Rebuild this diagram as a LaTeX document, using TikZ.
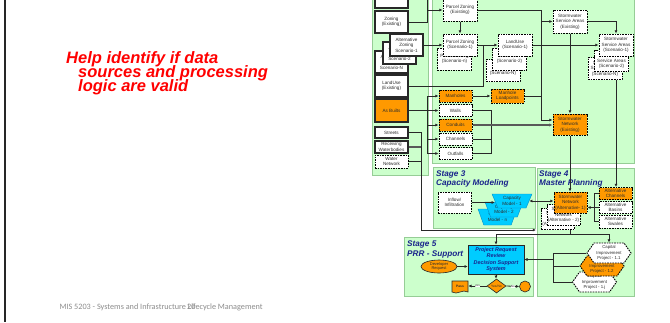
\documentclass[tikz,border=0pt]{standalone}
\usepackage{fontspec}
\setmainfont{Liberation Sans}
\newfontfamily\footfont{Carlito}
\usetikzlibrary{arrows.meta,shapes.geometric,shapes.symbols,calc}
\definecolor{panelfill}{RGB}{204,255,204}
\definecolor{panelline}{RGB}{150,205,150}
\definecolor{orng}{RGB}{255,153,0}
\definecolor{cyanbox}{RGB}{0,204,255}
\definecolor{cyanline}{RGB}{0,140,200}
\definecolor{navy}{RGB}{25,35,140}
\definecolor{ink}{RGB}{40,40,40}
\definecolor{txt}{RGB}{45,45,45}
\definecolor{footgray}{RGB}{140,140,140}
\newcommand\boxfont{\fontsize{4.6}{5.4}\selectfont}
\newcommand\hexfont{\fontsize{4.3}{5.4}\selectfont}
\begin{document}
\begin{tikzpicture}[x=1pt,y=-1pt,
  box/.style={rectangle, inner sep=0.4pt, align=center, font=\boxfont, text=txt, minimum width=33pt},
  solidbox/.style={box, draw=ink, line width=1.2pt, fill=white},
  dashbox/.style={box, draw=black, line width=1pt, dash pattern=on 1.6pt off 1pt, fill=white},
  orangedash/.style={dashbox, fill=orng},
  hexbox/.style={signal, signal to=east and west, signal pointer angle=110, draw=black, line width=0.9pt,
     dash pattern=on 1.6pt off 1pt, fill=white, inner sep=0.3pt, align=center, font=\hexfont, text=txt,
     minimum width=44pt, minimum height=20pt},
  capbox/.style={trapezium, shape border rotate=180, trapezium left angle=66, trapezium right angle=66,
     trapezium stretches=true, fill=cyanbox, draw=cyanline, line width=0.4pt, inner sep=0.3pt,
     align=center, font=\boxfont, text=txt},
  panel/.style={draw=panelline, line width=0.8pt, fill=panelfill},
  stagelabel/.style={font=\bfseries\itshape\fontsize{8.2}{9.5}\selectfont, text=navy, anchor=base west, inner sep=0},
  conn/.style={draw=ink, line width=0.8pt},
  thickconn/.style={draw=black!65, line width=1.4pt},
  arr/.style={conn, -{Latex[length=3.2pt,width=3pt]}},
  arrboth/.style={conn, {Latex[length=3.2pt,width=3pt]}-{Latex[length=3.2pt,width=3pt]}},
  lbl/.style={fill=white, inner sep=0.3pt, font=\fontsize{3}{3.5}\selectfont, text=txt},
  helptext/.style={anchor=base west, inner sep=0, font=\bfseries\itshape\fontsize{16.5}{17}\selectfont, text=red},
  foot/.style={anchor=base west, inner sep=0, font=\footfont\fontsize{8.2}{9}\selectfont, text=footgray}
]
\useasboundingbox (0,0) rectangle (670,322);
\fill[white] (0,0) rectangle (670,322);

% slide edge
\draw[line width=2.6pt, black!85] (5,0) -- (5,322);

% slide text
\node[helptext] (h1) at (66,63.3) {Help identify if data};
\node[helptext] (h2) at (78,77.7) {sources and processing};
\node[helptext] (h3) at (78,91.7) {logic are valid};
\node[foot] (ft) at (59.3,309.5) {MIS 5203 - Systems and Infrastructure Lifecycle Management};
\node[foot] (pg) at (187,309.5) {20};

% stage panels
\draw[panel] (372,-5) rectangle (428,175);
\draw[panel] (432,-5) rectangle (634,163);
\draw[panel] (433,167) rectangle (535,228);
\draw[panel] (537,168) rectangle (634,296);
\draw[panel] (404,237) rectangle (533,296);

\node[stagelabel] (st3a) at (436,176) {Stage 3};
\node[stagelabel] (st3b) at (436,185.5) {Capacity Modeling};
\node[stagelabel] (st4a) at (539,176) {Stage 4};
\node[stagelabel] (st4b) at (539,185.5) {Master Planning};
\node[stagelabel] (st5a) at (407,246) {Stage 5};
\node[stagelabel] (st5b) at (407,256) {PRR - Support};

% stage 1 sources
\node[solidbox, minimum height=22pt] (s1top) at (391.5,-3) {};
\node[solidbox, minimum height=22pt] (zonE) at (391.5,22) {Zoning\\(Existing)};
\node[solidbox, minimum height=22pt] (altzN) at (391.5,62) {Alternative\\Zoning\\Scenario-N};
\node[solidbox, minimum height=22pt] (altz2) at (399.5,53) {Alternative\\Zoning\\Scenario-2};
\node[solidbox, minimum height=22pt] (altz1) at (406.5,45) {Alternative\\Zoning\\Scenario-1};
\node[solidbox, minimum height=22pt] (luE) at (391.5,86) {LandUse\\(Existing)};
\node[solidbox, fill=orng, minimum height=23pt] (asb) at (391.5,110.5) {As Builts};
\node[solidbox, minimum height=11pt] (streets) at (391.5,132.5) {Streets};
\node[solidbox, minimum height=12pt] (rwb) at (391.5,147) {Receiving\\Waterbodies};
\node[dashbox, minimum height=13pt] (wn) at (391.5,161.5) {Water\\Network};

% stage 2 layers
\node[dashbox, minimum width=34pt, minimum height=22pt] (pzE) at (460,10) {Parcel Zoning\\(Existing)};
\node[dashbox, minimum width=34pt, minimum height=22pt] (pzN) at (454.5,59) {Parcel Zoning\\(Scenario-n)};
\node[dashbox, minimum width=34pt, minimum height=22pt] (pz1) at (460,45) {Parcel Zoning\\(Scenario-1)};
\node[dashbox, minimum width=34pt, minimum height=22pt] (luN) at (503,70.5) {LandUse\\(Scenario-N)};
\node[dashbox, minimum width=34pt, minimum height=22pt] (lu2) at (509.5,59) {LandUse\\(Scenario-2)};
\node[dashbox, minimum width=34pt, minimum height=22pt] (lu1) at (515,45) {LandUse\\(Scenario-1)};
\node[dashbox, minimum width=34pt, minimum height=23pt] (ssaE) at (570,21.5) {Stormwater\\Service Areas\\(Existing)};
\node[dashbox, minimum width=34pt, minimum height=22pt] (ssaN) at (605,68.5) {Stormwater\\Service Areas\\(Scenario-N)};
\node[dashbox, minimum width=34pt, minimum height=21pt] (ssa2) at (611.5,61) {Stormwater\\Service Areas\\(Scenario-2)};
\node[dashbox, minimum width=34pt, minimum height=22pt] (ssa1) at (616,45) {Stormwater\\Service Areas\\(Scenario-1)};
\node[orangedash, minimum height=12pt] (manh) at (455.5,96) {Manholes};
\node[orangedash, minimum height=14pt] (mlp) at (507.5,96) {Manhole\\Loadpoints};
\node[dashbox, minimum height=12pt] (walls) at (455.5,110.5) {Walls};
\node[orangedash, minimum height=12pt] (cond) at (455.5,125) {Conduits};
\node[dashbox, minimum height=12pt] (chan) at (455.5,139) {Channels};
\node[dashbox, minimum height=12pt] (outf) at (455.5,153.5) {Outfalls};
\node[orangedash, minimum width=34pt, minimum height=21pt] (snE) at (570,124.5) {Stormwater\\Network\\(Existing)};

% stage 3
\node[dashbox, minimum height=21pt] (infl) at (454.5,202.5) {Inflow/\\Infiltration};
\node[capbox, minimum width=39pt, minimum height=16pt] (capN) at (497.5,217) {Capacity\\Model - n};
\node[capbox, minimum width=38pt, minimum height=15pt] (cap2) at (504,209.5) {Capacity\\Model - 2};
\node[capbox, minimum width=40pt, minimum height=14pt] (cap1) at (512,201) {Capacity\\Model - 1};

% stage 4
\node[dashbox, minimum height=21pt] (snAN) at (558,219) {Stormwater\\Network\\(Alternative - n)};
\node[dashbox, minimum height=21pt] (snA2) at (563.5,215) {Stormwater\\Network\\(Alternative - 2)};
\node[orangedash, minimum height=21pt] (snA1) at (570.5,202.5) {Stormwater\\Network\\(Alternative- 1)};
\node[orangedash, minimum height=12pt] (altC) at (615.5,193.5) {Alternative\\Channels};
\node[dashbox, minimum height=12pt] (altB) at (615.5,207.5) {Alternative\\Basins};
\node[dashbox, minimum height=13pt] (altS) at (615.5,221.5) {Alternative\\Swales};
\node[hexbox] (cipj) at (594.5,282) {Capital\\Improvement\\Project - 1.j};
\node[hexbox, fill=orng] (cip2) at (602,266) {Capital\\Improvement\\Project - 1.2};
\node[hexbox] (cip1) at (609,253) {Capital\\Improvement\\Project - 1.1};

% stage 5
\node[rectangle, fill=cyanbox, draw=ink, line width=0.6pt, minimum width=56pt, minimum height=29pt,
      inner sep=0.5pt, align=center, font=\bfseries\itshape\fontsize{5.4}{6.5}\selectfont, text=navy]
      (prr) at (496,259.5) {Project Request\\Review\\Decision Support\\System};
\node[ellipse, fill=orng, draw=ink, line width=0.6pt, minimum width=36pt, minimum height=13pt, inner sep=0,
      align=center, font=\fontsize{4}{4.6}\selectfont, text=txt] (devreq) at (439,266.5) {Developer\\Request};
\node[diamond, fill=orng, draw=ink, line width=0.6pt, aspect=1.35, minimum width=19pt, minimum height=14pt,
      inner sep=0, font=\fontsize{3.3}{4}\selectfont, text=txt] (dia) at (496.5,286) {Yes/No};
\node[tape, tape bend top=none, tape bend height=2pt, fill=orng, draw=ink, line width=0.6pt,
      minimum width=16pt, minimum height=12pt, inner sep=0, font=\bfseries\fontsize{3.3}{4}\selectfont, text=txt]
      (pass) at (460,286) {Pass};
\node[circle, fill=orng, draw=ink, line width=0.6pt, minimum size=11pt, inner sep=0] (circ) at (525,286.5) {};

% connectors: stage 1 and 2
\draw[conn] (s1top.east) -| (427,22);
\draw[arr] (zonE.east) -| (427,10) -- (pzE.west);
\draw[arr] (altz1.east) -- (pz1.west);
\draw[arr] (pzE.south) -- (pz1.north);
\draw[arr] (pz1.east) -- (lu1.west);
\draw[conn] (luE.east) -| (483,45);
\draw[arr] (pzE.east) -| (541,120) -- ([yshift=4.5pt]snE.west);
\coordinate (j1) at (541,21.5);
\draw[arr] (j1) -- (ssaE.west);
\draw[arr] (lu1.east) -- (ssa1.west);
\draw[arr] (ssaE.south) -- (snE.north);
\draw[arr] (ssaE.east) -| (ssa1.north);
\draw[arr] (ssa1.south |- ssaN.south) -- (ssa1.south |- altC.north);
\draw[arr] (snE.south) -- (snE.south |- snA1.north);
\draw[arr] (manh.east) -- (mlp.west);
\draw[conn] (mlp.east) -- (541,96);

\draw[arr] (asb.east) -- (walls.west);
\coordinate (busA) at (427,110.5);
\draw[arr] (busA) |- (manh.west);
\draw[arr] (busA) |- (cond.west);
\draw[arr] (busA) |- (chan.west);
\draw[arr] (busA) |- (outf.west);

\draw[conn] (walls.east) -| (491,125);
\draw[conn] (outf.east) -| (491,125);
\draw[conn] (chan.east) -- (491,139);
\draw[thickconn, -{Latex[length=3.4pt,width=3.2pt]}] (cond.east) -- (cond.east -| snE.west);

\coordinate (sbend) at (421,230);
\coordinate (sbEnd) at (536,230);
\draw[conn] (streets.east) -| (sbend);
\draw[arr] (sbend) -- (sbEnd);
\draw[thickconn, line width=1.1pt] (rwb.east) -- (rwb.east -| sbend);
\draw[conn] (wn.east) -- (wn.east -| sbend);

% connectors: stages 3 to 5
\draw[arr] (infl.east) -- (infl.east -| cap1.west);
\draw[arrboth] (cap1.east) -- (cap1.east -| snA1.west);
\draw[conn] (altC.west) -- ++(-4,0) |- (altS.west);
\draw[arr] (altB.west) -- (snA1.east |- altB.west);

\coordinate (j4) at (570.5,234);
\draw[conn] (snA1.south |- snAN.south) -- (j4);
\draw[arr] (j4) -| (cip1.north);
\draw[arr] (j4) -| (prr.north);

\coordinate (cb) at (553,259.5);
\draw[conn] (cip1.west) -| (553,282) -- (cipj.west);
\draw[conn] (cip2.west) -- (cip2.west -| cb);
\draw[arr] (cb) -- (prr.east);

\draw[arr] (devreq.east) -- (devreq.east -| prr.west);
\draw[arr] (prr.south) -- (prr.south |- dia.north);
\draw[arr] (dia.west) -- node[lbl] (lyes) {yes} (pass.east);
\draw[arr] (dia.east) -- node[lbl] (lno) {No} (circ.west);
\end{tikzpicture}
\end{document}
